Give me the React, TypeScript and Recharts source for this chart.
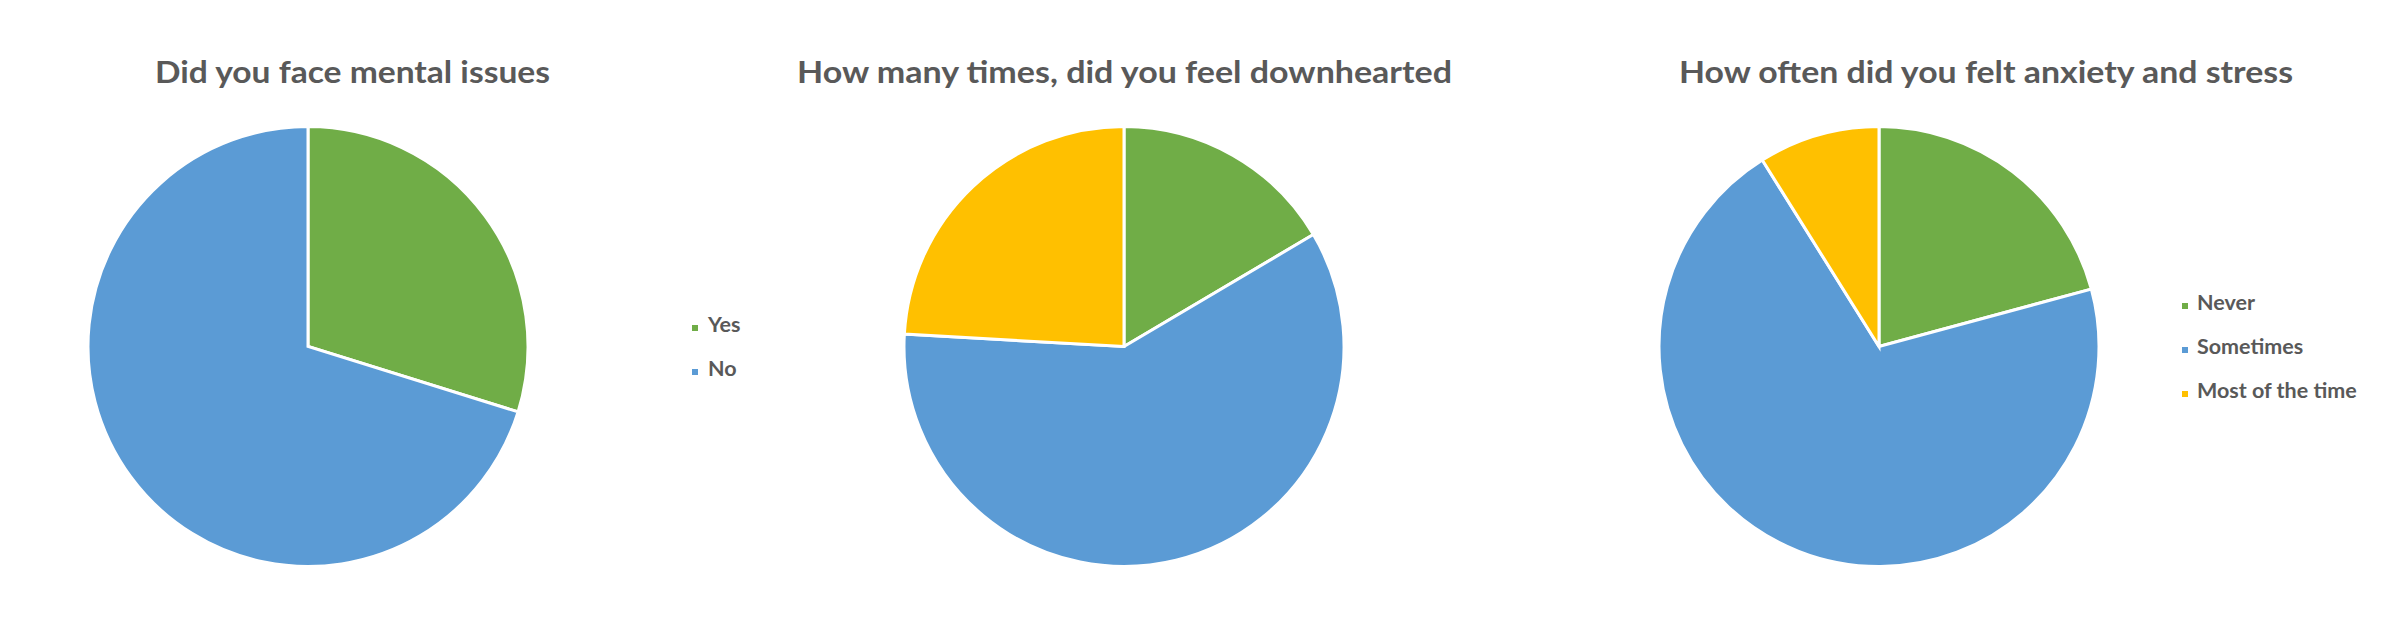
import React from "react";
import { PieChart, Pie, Cell } from "recharts";

// ---- data ----
const mentalCategories = ["Yes", "No"];
const mentalValues = [29.8, 70.2];

const downheartedCategories = ["Never", "Sometimes", "Most of the time"];
const downheartedValues = [16.5, 59.4, 24.1];

const anxietyCategories = ["Never", "Sometimes", "Most of the time"];
const anxietyValues = [20.8, 70.3, 8.9];

const titles = [
  "Did you face mental issues",
  "How many times, did you feel downhearted",
  "How often did you felt anxiety and stress",
];

// ---- styles / layout ----
const COLORS = ["#70AD47", "#5B9BD5", "#FFC000"];
const COLORS_MENTAL = ["#70AD47", "#5B9BD5"];
const TEXT = "#595959";
const FONT = "Lato, 'Open Sans', sans-serif";
const W = 2392;
const H = 617;
const R = 220;
const CY = 346.5;

const toRows = (cats: string[], vals: number[]) =>
  cats.map((c, i) => ({ name: c, value: vals[i] }));

const panels = [
  { left: 0, width: 797, cx: 308, rows: toRows(mentalCategories, mentalValues), colors: COLORS_MENTAL },
  { left: 797, width: 797, cx: 327, rows: toRows(downheartedCategories, downheartedValues), colors: COLORS },
  { left: 1594, width: 798, cx: 285, rows: toRows(anxietyCategories, anxietyValues), colors: COLORS },
];

const titleLayout = [
  { x: 155, w: 395 },
  { x: 797, w: 655 },
  { x: 1679, w: 614 },
];
const TITLE_BASELINE = 83;

const legends = [
  { x: 692, textX: 708, baseline0: 332, cats: mentalCategories, colors: COLORS_MENTAL },
  { x: 2182, textX: 2197, baseline0: 310, cats: anxietyCategories, colors: COLORS },
];
const LEGEND_STEP = 44;

export default function App() {
  return (
    <div style={{ position: "absolute", left: 0, top: 0, width: W, height: H, background: "#fff" }}>
      {panels.map((p, i) => (
        <div key={i} style={{ position: "absolute", left: p.left, top: 0 }}>
          <PieChart width={p.width} height={H} margin={{ top: 0, right: 0, bottom: 0, left: 0 }}>
            <Pie
              data={p.rows}
              dataKey="value"
              nameKey="name"
              cx={p.cx}
              cy={CY}
              outerRadius={R}
              innerRadius={0}
              startAngle={90}
              endAngle={-270}
              stroke="#ffffff"
              strokeWidth={3}
              isAnimationActive={false}
            >
              {p.rows.map((r, j) => (
                <Cell key={r.name} fill={p.colors[j]} />
              ))}
            </Pie>
          </PieChart>
        </div>
      ))}
      <svg
        width={W}
        height={H}
        style={{ position: "absolute", left: 0, top: 0, pointerEvents: "none" }}
      >
        {titles.map((t, i) => (
          <text
            key={t}
            x={titleLayout[i].x}
            y={TITLE_BASELINE}
            textLength={titleLayout[i].w}
            lengthAdjust="spacingAndGlyphs"
            fill={TEXT}
            fontFamily={FONT}
            fontWeight={700}
            fontSize={31}
          >
            {t}
          </text>
        ))}
        {legends.map((lg, i) =>
          lg.cats.map((c, j) => {
            const b = lg.baseline0 + j * LEGEND_STEP;
            return (
              <g key={`${i}-${c}`}>
                <rect x={lg.x} y={b - 7} width={6} height={6} fill={lg.colors[j]} />
                <text x={lg.textX} y={b} fill={TEXT} fontFamily={FONT} fontWeight={700} fontSize={21.5}>
                  {c}
                </text>
              </g>
            );
          })
        )}
      </svg>
    </div>
  );
}
